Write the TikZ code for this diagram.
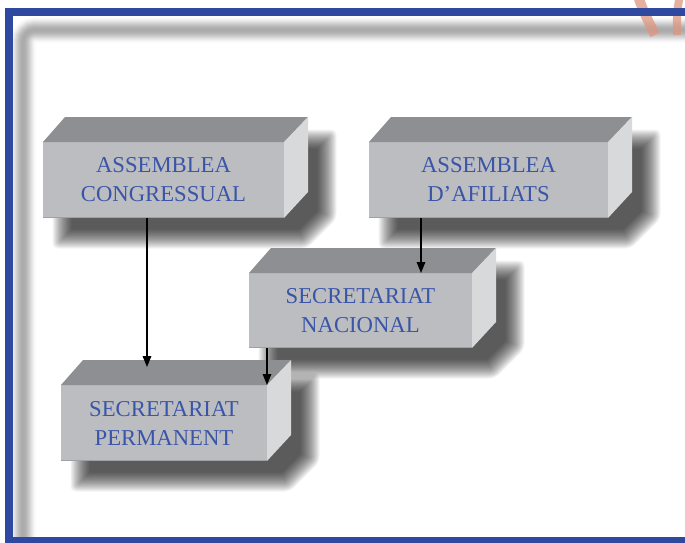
\documentclass[tikz,border=0pt]{standalone}
\usepackage{fontspec}
\setmainfont{Liberation Serif}
\usetikzlibrary{arrows.meta}
\definecolor{frameblue}{RGB}{47,73,160}
\definecolor{txtblue}{RGB}{58,85,168}
\definecolor{topgray}{RGB}{141,143,146}
\definecolor{frontgray}{RGB}{188,189,192}
\definecolor{sidegray}{RGB}{216,217,219}
\definecolor{edgegray}{RGB}{160,161,164}
\definecolor{pinkarc}{RGB}{222,150,128}
\tikzset{
  frontface/.style={fill=frontgray, inner sep=0pt, outer sep=0pt, text=txtblue,
    font=\fontsize{22.7}{29}\selectfont, align=center},
  arr/.style={line width=1.5pt, -{Triangle[length=11pt,width=8.5pt]}},
  topface/.style={fill=topgray},
  sideface/.style={fill=sidegray},
  shadowlayer/.style={fill=black, opacity=0.0485, shift={(19,21)}},
}
% soft shadow of a cuboid: #1 x1, #2 y1, #3 x2, #4 y2 (front face)
\newcommand\myshadow[4]{%
  \foreach \k in {1,...,20}{%
    \pgfmathsetmacro\r{-10+(\k-0.5)}%
    \pgfmathsetmacro\q{0.4142*\r}%
    \pgfmathsetmacro\rc{max(0.6*\r,0.01)}%
    \fill[shadowlayer, rounded corners=\rc pt]
      ({#1-(\r)},{#4+(\r)}) -- ({#3+(\q)},{#4+(\r)}) -- ({#3+24+(\r)},{#4-24+(\q)})
      -- ({#3+24+(\r)},{#2-24-(\r)}) -- ({#1+24-(\q)},{#2-24-(\r)}) -- ({#1-(\r)},{#2-(\q)}) -- cycle;
  }%
}
% cuboid: #1 name, #2 x1, #3 y1, #4 x2, #5 y2, #6 text
\newcommand\mycuboid[6]{%
  \node[frontface, minimum width={#4-#2}, minimum height={#5-#3}] (#1) at ({(#2+#4)/2},{(#3+#5)/2}) {#6};
  \fill[topface] (#1.north west) -- ++(22,-25) -- ++({#4-#2+2},0) -- (#1.north east) -- cycle;
  \fill[sideface] (#1.north east) -- ++(24,-25) -- ++(0,{#5-#3-1}) -- (#1.south east) -- cycle;
  \draw[edgegray, line width=1.4pt] ([yshift=0.7pt]#1.south west) -- ([yshift=0.7pt]#1.south east);
}
\begin{document}
\begin{tikzpicture}[x=1pt,y=-1pt]
\useasboundingbox (0,0) rectangle (685,542);
\fill[white] (0,0) rectangle (685,542);
% inner soft band
\foreach \i in {0,...,13}{%
  \pgfmathsetmacro\w{2*14*(1-\i/14)}%
  \pgfmathsetmacro\t{1-(\i+0.5)/14}%
  \pgfmathsetmacro\c{33*(1-(3*\t*\t-2*\t*\t*\t))}%
  \draw[draw=black!\c!white, line width=\w pt, rounded corners=12pt]
    (720,30) -- (23,30) -- (23,600);
}
% pink strokes at top right
\draw[pinkarc, opacity=0.75, line width=10pt] (638,-4) .. controls (644,14) and (650,24) .. (655,35);
\draw[pinkarc, opacity=0.75, line width=8pt] (680,-4) .. controls (676,12) and (677,24) .. (677,35);
% frame
\draw[frameblue, line width=8pt] (9,12) rectangle (700,541);
% shadows
\myshadow{43}{142}{284}{218}
\myshadow{369}{142}{608}{218}
\myshadow{249}{273}{472}{348}
\myshadow{61}{385}{267}{461}
% boxes
\mycuboid{cong}{43}{142}{284}{218}{ASSEMBLEA\\CONGRESSUAL}
\mycuboid{afil}{369}{142}{608}{218}{ASSEMBLEA\\D’AFILIATS}
\mycuboid{nac}{249}{273}{472}{348}{SECRETARIAT\\NACIONAL}
\mycuboid{perm}{61}{385}{267}{461}{SECRETARIAT\\PERMANENT}
% connectors
\coordinate (t1) at (147,367);
\coordinate (t2) at (421,0);
\draw[arr] (cong.south -| t1) -- (t1);
\draw[arr] (afil.south -| t2) -- (nac.north -| t2);
\draw[arr] (nac.south -| perm.north east) -- (perm.north east);
\end{tikzpicture}
\end{document}
